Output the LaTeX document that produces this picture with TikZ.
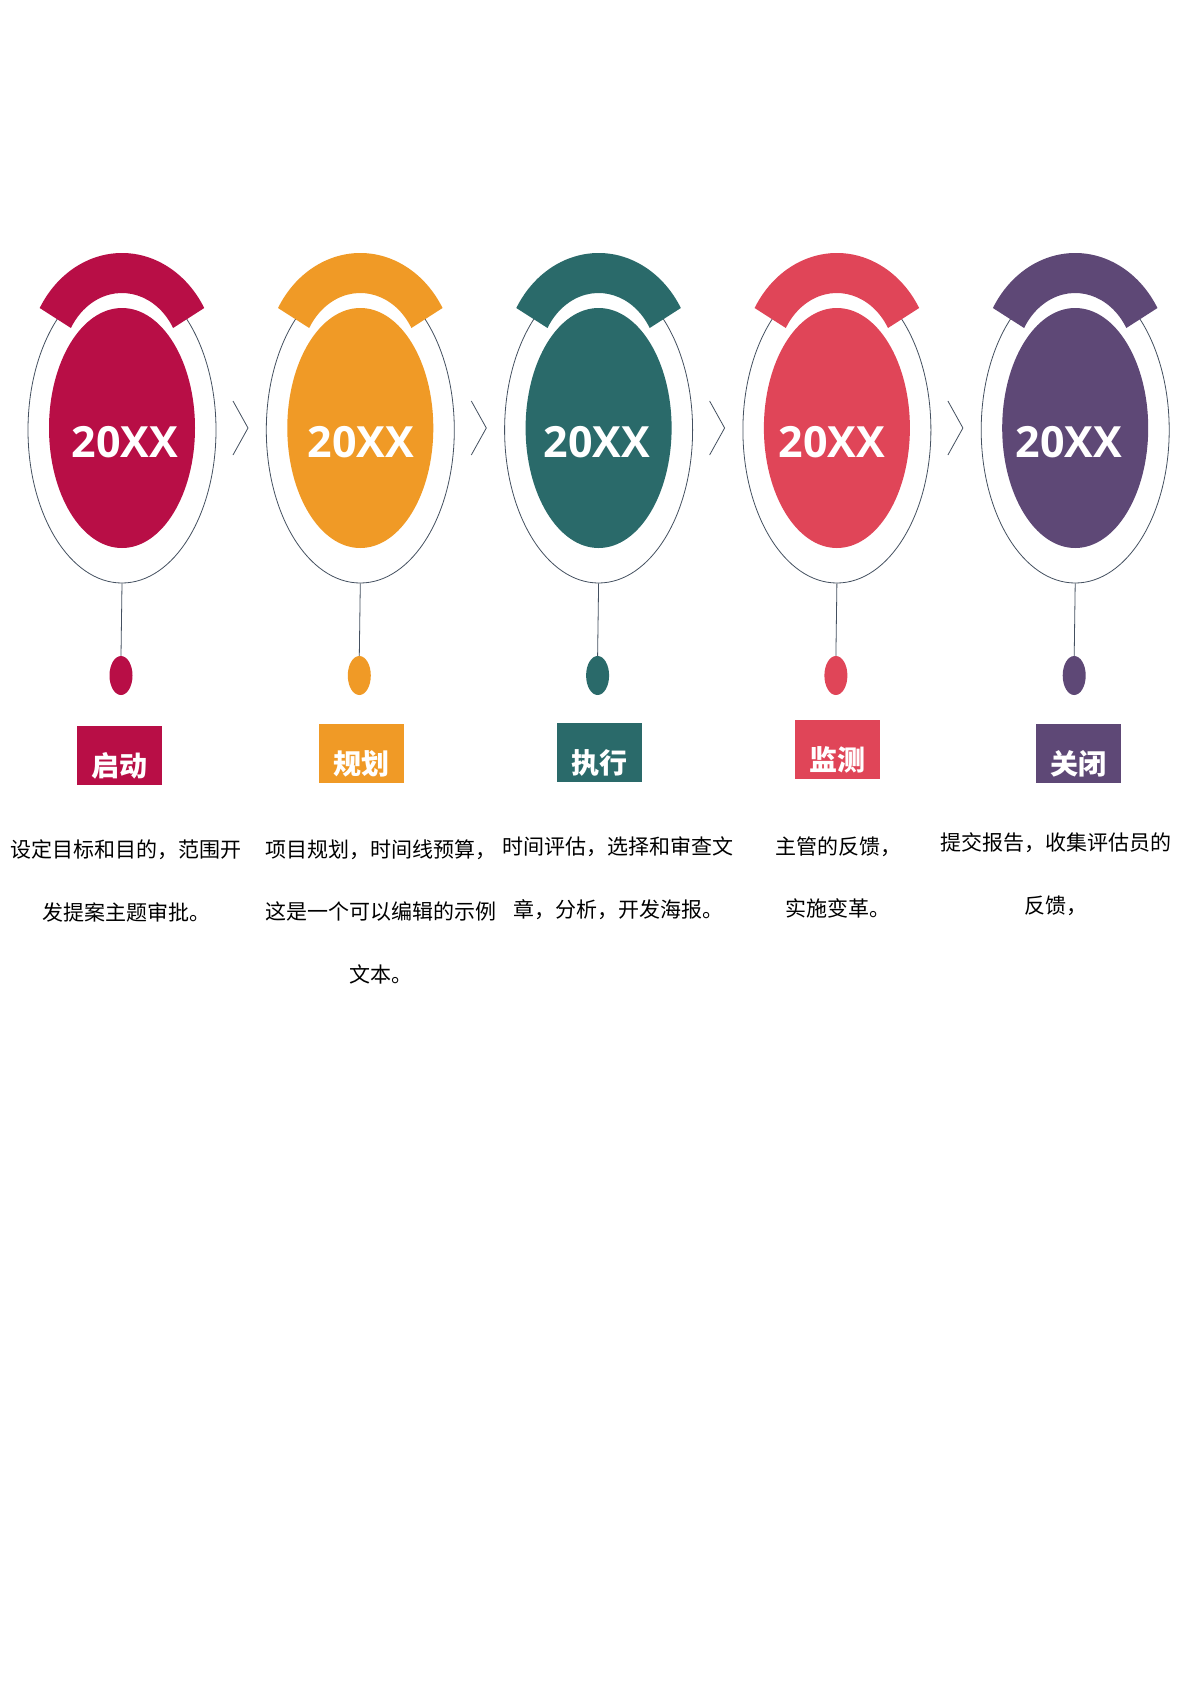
\documentclass[tikz,border=0pt]{standalone}
\usepackage{fontspec}
\usetikzlibrary{shapes.geometric}
\newfontfamily\cjk{Noto Sans CJK SC}
\newfontfamily\numfont{Open Sans}
\definecolor{cA}{RGB}{184,14,70}
\definecolor{cB}{RGB}{240,154,38}
\definecolor{cC}{RGB}{42,106,106}
\definecolor{cD}{RGB}{224,69,88}
\definecolor{cE}{RGB}{94,72,118}
\definecolor{linec}{RGB}{68,80,96}
\begin{document}
\begin{tikzpicture}[x=1pt,y=-1pt,
  outerring/.style={ellipse, draw=linec, line width=0.8pt, minimum width=188pt, minimum height=306pt, inner sep=0pt},
  innerdisc/.style={ellipse, minimum width=146pt, minimum height=240pt, inner sep=0pt},
  dropdot/.style={ellipse, minimum width=23pt, minimum height=39pt, inner sep=0pt},
  yeartext/.style={text=white, inner sep=0pt, font=\numfont\bfseries\fontsize{43}{43}\selectfont},
  labelbox/.style={minimum width=85pt, minimum height=59pt, inner sep=0pt},
  labeltext/.style={text=white, inner sep=0pt, font=\cjk\bfseries\fontsize{28}{28}\selectfont},
  bodytext/.style={text=black, inner sep=0pt, font=\cjk\fontsize{21}{21}\selectfont},
  stem/.style={draw=linec, line width=0.8pt},
  chev/.style={draw=linec, line width=0.8pt}]
\useasboundingbox[fill=white] (0,0) rectangle (1191,1684);
\foreach \i/\c/\lab/\bx/\by/\tx in {0/cA/启动/119/755.5/125, 1/cB/规划/361/753.5/361, 2/cC/执行/599.5/752.5/597, 3/cD/监测/837.5/749.5/832, 4/cE/关闭/1078.5/753.5/1069}{
  \pgfmathsetmacro\cx{122+238.3*\i}
  \node[outerring] (o\i) at (\cx,430) {};
  \fill[\c] (\cx-82.3,308) arc[start angle=210, end angle=330, x radius=95, y radius=110]
     -- (\cx+51.1,328) arc[start angle=330, end angle=210, x radius=59, y radius=70] -- cycle;
  \node[innerdisc, fill=\c] (e\i) at (\cx,428) {};
  \node[yeartext] (y\i) at (\tx,442.5) {20XX};
  \node[dropdot, fill=\c] (d\i) at (\cx-1,675.5) {};
  \draw[stem] (o\i.south) -- (d\i.north);
  \node[labelbox, fill=\c] (b\i) at (\bx,\by) {};
  \node[labeltext] (l\i) at (\bx,\by+10.5) {\lab};
}
\foreach \i in {0,1,2,3}{
  \pgfmathsetmacro\cx{122+238.3*\i}
  \draw[chev] (\cx+111,401) -- (\cx+126,428) -- (\cx+111,455);
}
\node[bodytext] (t0a) at (126,850) {设定目标和目的，范围开};
\node[bodytext] (t0b) at (126,912) {发提案主题审批。};
\node[bodytext] (t1a) at (381,850) {项目规划，时间线预算，};
\node[bodytext] (t1b) at (381,912) {这是一个可以编辑的示例};
\node[bodytext] (t1c) at (381,974) {文本。};
\node[bodytext] (t2a) at (618,847) {时间评估，选择和审查文};
\node[bodytext] (t2b) at (618,910) {章，分析，开发海报。};
\node[bodytext] (t3a) at (838,847) {主管的反馈，};
\node[bodytext] (t3b) at (838,908) {实施变革。};
\node[bodytext] (t4a) at (1056,843) {提交报告，收集评估员的};
\node[bodytext] (t4b) at (1056,906) {反馈，};
\end{tikzpicture}
\end{document}
